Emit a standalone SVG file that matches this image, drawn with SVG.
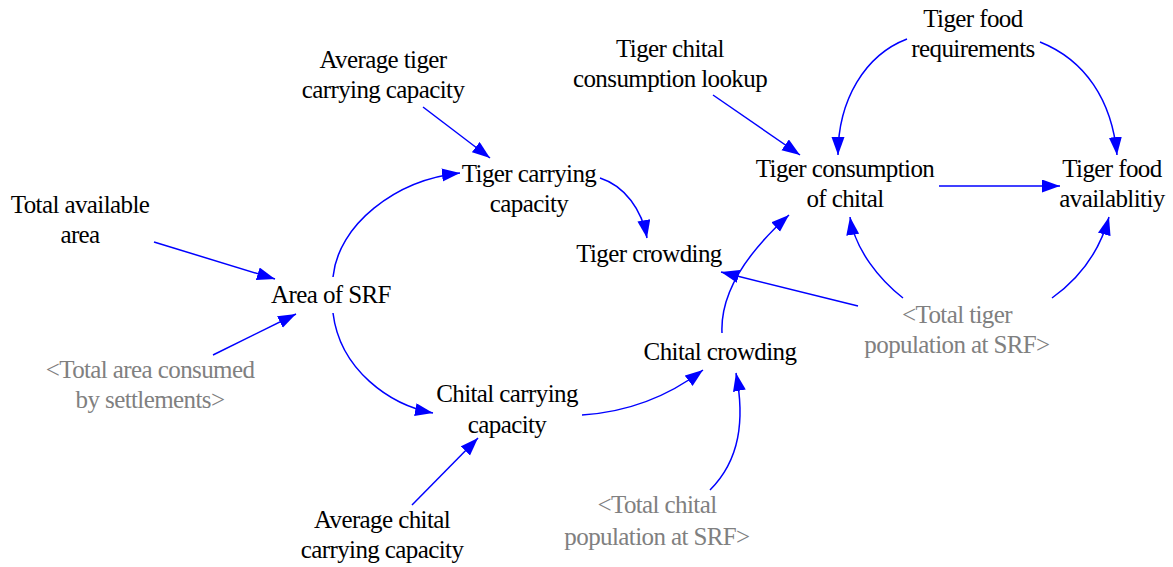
<svg xmlns="http://www.w3.org/2000/svg" width="1173" height="567" viewBox="0 0 1173 567">
<style>
text{font-size:25px;letter-spacing:-0.6px;text-anchor:middle;fill:#000}
.sh text{fill:#808080}
.c path{fill:none;stroke:#0000ff;stroke-width:1.5;marker-end:url(#ah)}
</style>
<defs>
<marker id="ah" markerUnits="userSpaceOnUse" markerWidth="20" markerHeight="14" refX="18" refY="6.5" orient="auto">
<path d="M0,0 L18,6.5 L0,13 Z" fill="#0000ff"/>
</marker>
</defs>
<g id="connectors" class="c">
<path d="M154,242 L275,279"/>
<path d="M213,355 L296,314"/>
<path d="M333,277 C338,225 395,180 460,173"/>
<path d="M333,313 C340,370 390,405 433,413"/>
<path d="M423,107 L490,158"/>
<path d="M600,178 C625,186 642,210 647,238"/>
<path d="M713,95 L800,155"/>
<path d="M907,39 C865,55 838,100 838,155"/>
<path d="M1040,42 C1085,60 1112,100 1117,155"/>
<path d="M939,186 L1060,186"/>
<path d="M903,298 C880,280 855,250 850,217"/>
<path d="M1052,298 C1080,278 1100,250 1109,217"/>
<path d="M858,306 L721,272"/>
<path d="M722,333 C720,290 750,250 789,215"/>
<path d="M582,415 C630,412 670,395 703,370"/>
<path d="M710,490 C740,460 745,420 736,373"/>
<path d="M412,505 L478,438"/>
</g>
<g font-family="Liberation Serif, DejaVu Serif, serif">
<g id="total-available-area"><text x="80" y="213">Total available</text><text x="80" y="243">area</text></g>
<g id="area-of-srf"><text x="331" y="303">Area of SRF</text></g>
<g id="total-area-consumed" class="sh"><text x="150" y="378">&lt;Total area consumed</text><text x="150" y="408">by settlements&gt;</text></g>
<g id="average-tiger-cc"><text x="383" y="68">Average tiger</text><text x="383" y="98">carrying capacity</text></g>
<g id="tiger-cc"><text x="529" y="182">Tiger carrying</text><text x="529" y="212">capacity</text></g>
<g id="tiger-crowding"><text x="649" y="262">Tiger crowding</text></g>
<g id="chital-crowding"><text x="720" y="360">Chital crowding</text></g>
<g id="chital-cc"><text x="507" y="402">Chital carrying</text><text x="507" y="433">capacity</text></g>
<g id="average-chital-cc"><text x="382" y="528">Average chital</text><text x="382" y="558">carrying capacity</text></g>
<g id="total-chital" class="sh"><text x="657" y="513">&lt;Total chital</text><text x="657" y="545">population at SRF&gt;</text></g>
<g id="tiger-chital-lookup"><text x="670" y="57">Tiger chital</text><text x="670" y="87">consumption lookup</text></g>
<g id="tiger-consumption"><text x="845" y="177">Tiger consumption</text><text x="845" y="207">of chital</text></g>
<g id="tiger-food-availability"><text x="1112" y="177">Tiger food</text><text x="1112" y="207">availablitiy</text></g>
<g id="tiger-food-requirements"><text x="973" y="27">Tiger food</text><text x="973" y="57">requirements</text></g>
<g id="total-tiger" class="sh"><text x="957" y="323">&lt;Total tiger</text><text x="957" y="353">population at SRF&gt;</text></g>
</g>
</svg>
